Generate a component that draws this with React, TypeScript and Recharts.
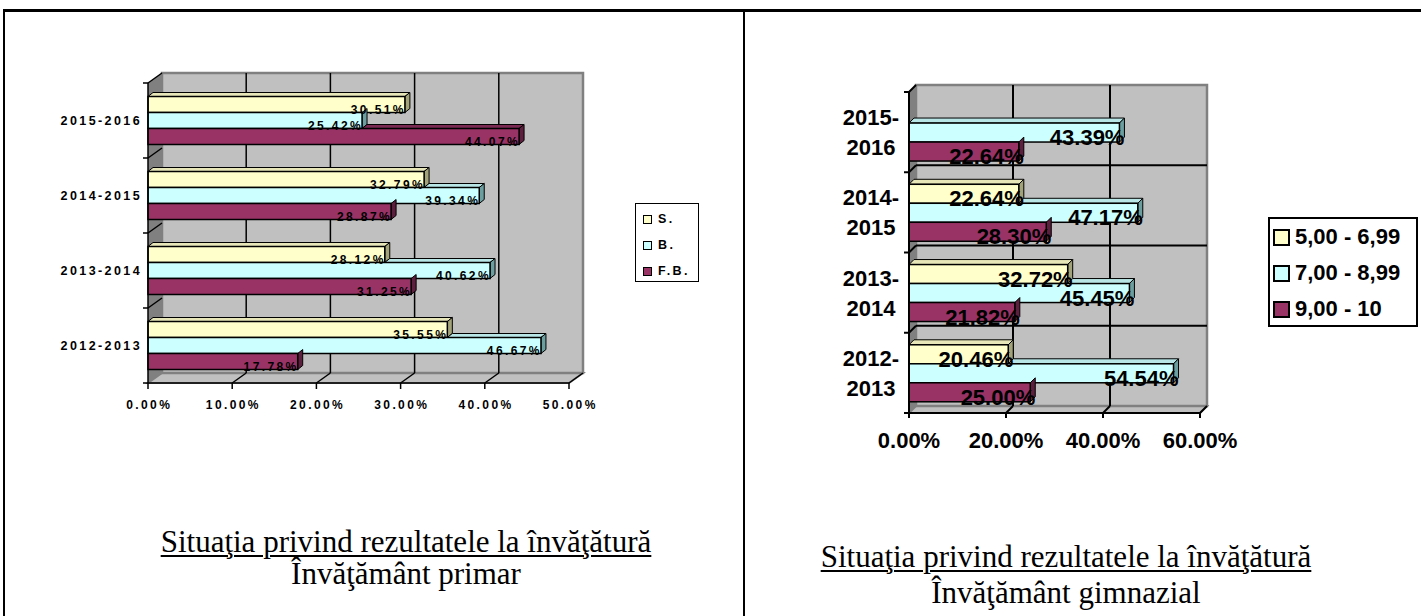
import React from 'react';
import { BarChart, Bar, XAxis, YAxis, ReferenceArea, LabelList, Legend } from 'recharts';

// school years, bottom to top on the chart
const years = ['2012-2013', '2013-2014', '2014-2015', '2015-2016'];

// Invatamant primar (S. / B. / F.B.), in %
const primarNames = ['S.', 'B.', 'F.B.'];
const primarS = [35.55, 28.12, 32.79, 30.51];
const primarB = [46.67, 40.62, 39.34, 25.42];
const primarFB = [17.78, 31.25, 28.87, 44.07];
const primarTicks = [0, 10, 20, 30, 40, 50];

// Invatamant gimnazial (grade bands), in %
const gimnNames = ['5,00 - 6,99', '7,00 - 8,99', '9,00 - 10'];
const gimnLow = [20.46, 32.72, 22.64, null];
const gimnMid = [54.54, 45.45, 47.17, 43.39];
const gimnHigh = [25.0, 21.82, 28.3, 22.64];
const gimnTicks = [0, 20, 40, 60];

const SANS = '"Liberation Sans", Arial, sans-serif';
const SERIF = '"Liberation Serif", "Times New Roman", serif';

const FRONT = ['#FFFFCC', '#CCFFFF', '#993366'];
const SIDE = ['#A3A37A', '#6B9E9E', '#5C1F3D'];
const TOP = ['#E6E6B8', '#B8E6E6', '#7A2952'];

const primarData = years.map((y, i) => ({ year: y, s: primarS[i], b: primarB[i], fb: primarFB[i] }));
const gimnData = years.map((y, i) => ({ year: y, low: gimnLow[i], mid: gimnMid[i], high: gimnHigh[i] }));

const pct = (v: number) => `${v.toFixed(2)}%`;

// 3D bar: front face, side face, and the part of the top face not hidden by the bar above it
const bar3d = (dx: number, dy: number, idx: number, keys: string[]) => (props: any) => {
  const { x, y, width, height, payload } = props;
  if (!width || width <= 0 || x == null) return <g />;
  const key = keys[idx];
  const val = payload ? payload[key] : null;
  let topStart = x;
  if (idx > 0 && payload && val) {
    const prev = payload[keys[idx - 1]];
    if (prev != null) topStart = x + (width * prev) / val;
  }
  const right = x + width;
  return (
    <g>
      {topStart < right && (
        <polygon
          points={`${topStart},${y} ${topStart + dx},${y - dy} ${right + dx},${y - dy} ${right},${y}`}
          fill={TOP[idx]}
          stroke="#000"
          strokeWidth={1}
        />
      )}
      <polygon
        points={`${right},${y} ${right + dx},${y - dy} ${right + dx},${y + height - dy} ${right},${y + height}`}
        fill={SIDE[idx]}
        stroke="#000"
        strokeWidth={1}
      />
      <rect x={x} y={y} width={width} height={height} fill={FRONT[idx]} stroke="#000" strokeWidth={1.5} />
    </g>
  );
};

// walls of the 3D plot: left wall, floor, back wall with its grid
const walls = (dx: number, dy: number, cols: number, rows: number, hLines: boolean, lw: number) => (props: any) => {
  const { x, y, width, height } = props;
  const bx = x + dx;
  const by = y - dy;
  const v = [];
  for (let i = 1; i < cols; i++) {
    const gx = bx + (i * width) / cols;
    v.push(<line key={`v${i}`} x1={gx} y1={by} x2={gx} y2={by + height} stroke="#000" strokeWidth={lw} />);
  }
  const f = [];
  for (let i = 1; i <= cols; i++) {
    const fx = x + (i * width) / cols;
    f.push(<line key={`f${i}`} x1={fx} y1={y + height} x2={fx + dx} y2={by + height} stroke="#000" strokeWidth={lw} />);
  }
  const h = [];
  for (let j = 0; j <= rows; j++) {
    const ry = y + (j * height) / rows;
    if (hLines && j > 0 && j < rows) {
      h.push(<line key={`h${j}`} x1={bx} y1={ry - dy} x2={bx + width} y2={ry - dy} stroke="#000" strokeWidth={lw} />);
    }
    if (j < rows) {
      h.push(<line key={`d${j}`} x1={x} y1={ry} x2={bx} y2={ry - dy} stroke="#000" strokeWidth={lw} />);
    }
    h.push(<line key={`t${j}`} x1={x - 5} y1={ry} x2={x} y2={ry} stroke="#000" strokeWidth={lw} />);
  }
  return (
    <g>
      <polygon points={`${x},${y} ${bx},${by} ${bx},${by + height} ${x},${y + height}`} fill="#808080" />
      <polygon
        points={`${x},${y + height} ${bx},${by + height} ${bx + width},${by + height} ${x + width},${y + height}`}
        fill="#C0C0C0"
        stroke="#808080"
        strokeWidth={2}
      />
      <rect x={bx} y={by} width={width} height={height} fill="#C0C0C0" stroke="#808080" strokeWidth={2.5} />
      {v}
      {f}
      {h}
    </g>
  );
};

const primarLabel = (p: any) => {
  const { viewBox, value } = p;
  if (value == null || !viewBox) return null;
  const { x, y, width, height } = viewBox;
  return (
    <text x={x + width + 1} y={y + height + 1} textAnchor="end" fontFamily={SANS} fontWeight="bold" fontSize={12} letterSpacing={2.4} fill="#000">
      {pct(value)}
    </text>
  );
};

const gimnLabel = (p: any) => {
  const { viewBox, value } = p;
  if (value == null || !viewBox) return null;
  const { x, y, width, height } = viewBox;
  return (
    <text x={x + width + 5} y={y + height + 3} textAnchor="end" fontFamily={SANS} fontWeight="bold" fontSize={22} fill="#000">
      {pct(value)}
    </text>
  );
};

const PrimarYTick = ({ x, y, payload }: any) => (
  <text x={x} y={y} dy="0.355em" textAnchor="end" fontFamily={SANS} fontWeight="bold" fontSize={12.5} letterSpacing={2.4} fill="#000">
    {payload.value}
  </text>
);

const PrimarXTick = ({ x, y, payload }: any) => (
  <text x={x + 1.2} y={y} dy="0.71em" textAnchor="middle" fontFamily={SANS} fontWeight="bold" fontSize={12} letterSpacing={2.4} fill="#000">
    {pct(payload.value)}
  </text>
);

const GimnYTick = ({ x, y, payload }: any) => {
  const [a, b] = String(payload.value).split('-');
  return (
    <text x={x} y={y} textAnchor="middle" fontFamily={SANS} fontWeight="bold" fontSize={22} fill="#000">
      <tspan x={x} dy={-7}>{a}-</tspan>
      <tspan x={x} dy={30}>{b}</tspan>
    </text>
  );
};

const GimnXTick = ({ x, y, payload }: any) => (
  <text x={x} y={y} dy="0.71em" textAnchor="middle" fontFamily={SANS} fontWeight="bold" fontSize={22} fill="#000">
    {pct(payload.value)}
  </text>
);

// keep legend entries in series order
const ordered = (payload: any[] | undefined, names: string[]) =>
  [...(payload || [])].sort((a, b) => names.indexOf(a.value) - names.indexOf(b.value));

const PrimarLegend = ({ payload }: any) => (
  <div
    style={{
      width: 64,
      height: 79,
      boxSizing: 'border-box',
      border: '1.5px solid #000',
      background: '#fff',
      paddingTop: 2,
      paddingLeft: 7,
    }}
  >
    {ordered(payload, primarNames).map((e: any, i: number) => (
      <div key={i} style={{ height: 26, display: 'flex', alignItems: 'center' }}>
        <span style={{ width: 7, height: 7, border: '1px solid #000', background: e.color, marginRight: 6 }} />
        <span style={{ fontFamily: SANS, fontWeight: 'bold', fontSize: 12.5, letterSpacing: 2.4 }}>{e.value}</span>
      </div>
    ))}
  </div>
);

const GimnLegend = ({ payload }: any) => (
  <div
    style={{
      width: 150,
      height: 110,
      boxSizing: 'border-box',
      border: '2px solid #000',
      background: '#fff',
      paddingTop: 0,
      paddingLeft: 3,
    }}
  >
    {ordered(payload, gimnNames).map((e: any, i: number) => (
      <div key={i} style={{ height: 36, display: 'flex', alignItems: 'center' }}>
        <span style={{ width: 13, height: 13, border: '2px solid #000', background: e.color, marginRight: 5 }} />
        <span style={{ fontFamily: SANS, fontWeight: 'bold', fontSize: 22 }}>{e.value}</span>
      </div>
    ))}
  </div>
);

const primarKeys = ['s', 'b', 'fb'];
const gimnKeys = ['low', 'mid', 'high'];

function PrimarChart() {
  return (
    <BarChart
      width={620}
      height={440}
      data={primarData}
      layout="vertical"
      margin={{ top: 83, right: 51, bottom: 27, left: 0 }}
      barCategoryGap="18%"
      barGap={0}
    >
      <ReferenceArea
        x1={0}
        x2={50}
        zIndex={-200}
        shape={walls(14, 10, primarTicks.length - 1, years.length, false, 1.5)}
        isFront={false}
      />
      <XAxis
        type="number"
        domain={[0, 50]}
        ticks={primarTicks}
        height={30}
        tick={<PrimarXTick />}
        tickSize={6}
        tickMargin={11}
        axisLine={{ stroke: '#000', strokeWidth: 1.5 }}
        tickLine={{ stroke: '#000', strokeWidth: 1.5 }}
      />
      <YAxis
        type="category"
        dataKey="year"
        reversed
        width={148}
        tick={<PrimarYTick />}
        tickSize={0}
        tickMargin={6}
        tickLine={false}
        axisLine={{ stroke: '#000', strokeWidth: 1.5 }}
      />
      {primarKeys.map((k, i) => (
        <Bar key={k} dataKey={k} name={primarNames[i]} fill={FRONT[i]} isAnimationActive={false} shape={bar3d(5, 4, i, primarKeys)}>
          <LabelList dataKey={k} content={primarLabel} />
        </Bar>
      ))}
      <Legend
        layout="horizontal"
        verticalAlign="middle"
        align="center"
        content={<PrimarLegend />}
        wrapperStyle={{ left: 635, top: 203, width: 64, height: 79 }}
      />
    </BarChart>
  );
}

function GimnChart() {
  return (
    <BarChart
      width={674}
      height={480}
      data={gimnData}
      layout="vertical"
      margin={{ top: 92, right: 218, bottom: 27, left: 0 }}
      barCategoryGap="15%"
      barGap={0}
    >
      <ReferenceArea
        x1={0}
        x2={60}
        zIndex={-200}
        shape={walls(7, 7, gimnTicks.length - 1, years.length, true, 2)}
        isFront={false}
      />
      <XAxis
        type="number"
        domain={[0, 60]}
        ticks={gimnTicks}
        height={40}
        tick={<GimnXTick />}
        tickSize={5}
        tickMargin={14}
        axisLine={{ stroke: '#000', strokeWidth: 2 }}
        tickLine={{ stroke: '#000', strokeWidth: 2 }}
      />
      <YAxis
        type="category"
        dataKey="year"
        reversed
        width={165}
        tick={<GimnYTick />}
        tickSize={0}
        tickMargin={38}
        tickLine={false}
        axisLine={{ stroke: '#000', strokeWidth: 2 }}
      />
      {gimnKeys.map((k, i) => (
        <Bar key={k} dataKey={k} name={gimnNames[i]} fill={FRONT[i]} isAnimationActive={false} shape={bar3d(5, 5, i, gimnKeys)}>
          <LabelList dataKey={k} content={gimnLabel} />
        </Bar>
      ))}
      <Legend
        layout="horizontal"
        verticalAlign="middle"
        align="center"
        content={<GimnLegend />}
        wrapperStyle={{ left: 524, top: 217, width: 150, height: 110 }}
      />
    </BarChart>
  );
}

const captionLine: React.CSSProperties = {
  position: 'absolute',
  width: 640,
  textAlign: 'center',
  fontFamily: SERIF,
  fontSize: 31,
  lineHeight: '31px',
  color: '#000',
  whiteSpace: 'nowrap',
};

const underlined: React.CSSProperties = {
  textDecoration: 'underline',
  textDecorationThickness: 2,
  textUnderlineOffset: 3,
};

export default function App() {
  return (
    <div style={{ position: 'absolute', left: 0, top: 0, width: 1421, height: 616, overflow: 'hidden', background: '#fff' }}>
      {/* table frame */}
      <div style={{ position: 'absolute', left: 3, top: 9, width: 1418, height: 3, background: '#000' }} />
      <div style={{ position: 'absolute', left: 3, top: 9, width: 2, height: 607, background: '#000' }} />
      <div style={{ position: 'absolute', left: 743, top: 9, width: 2, height: 607, background: '#000' }} />

      <div style={{ position: 'absolute', left: 0, top: 0 }}>
        <PrimarChart />
      </div>
      <div style={{ position: 'absolute', left: 744, top: 0 }}>
        <GimnChart />
      </div>

      <div style={{ ...captionLine, ...underlined, left: 86, top: 526 }}>Situaţia privind rezultatele la învăţătură</div>
      <div style={{ ...captionLine, left: 86, top: 558 }}>Învăţământ primar</div>

      <div style={{ ...captionLine, ...underlined, left: 746, top: 541 }}>Situaţia privind rezultatele la învăţătură</div>
      <div style={{ ...captionLine, left: 746, top: 577 }}>Învăţământ gimnazial</div>
    </div>
  );
}
